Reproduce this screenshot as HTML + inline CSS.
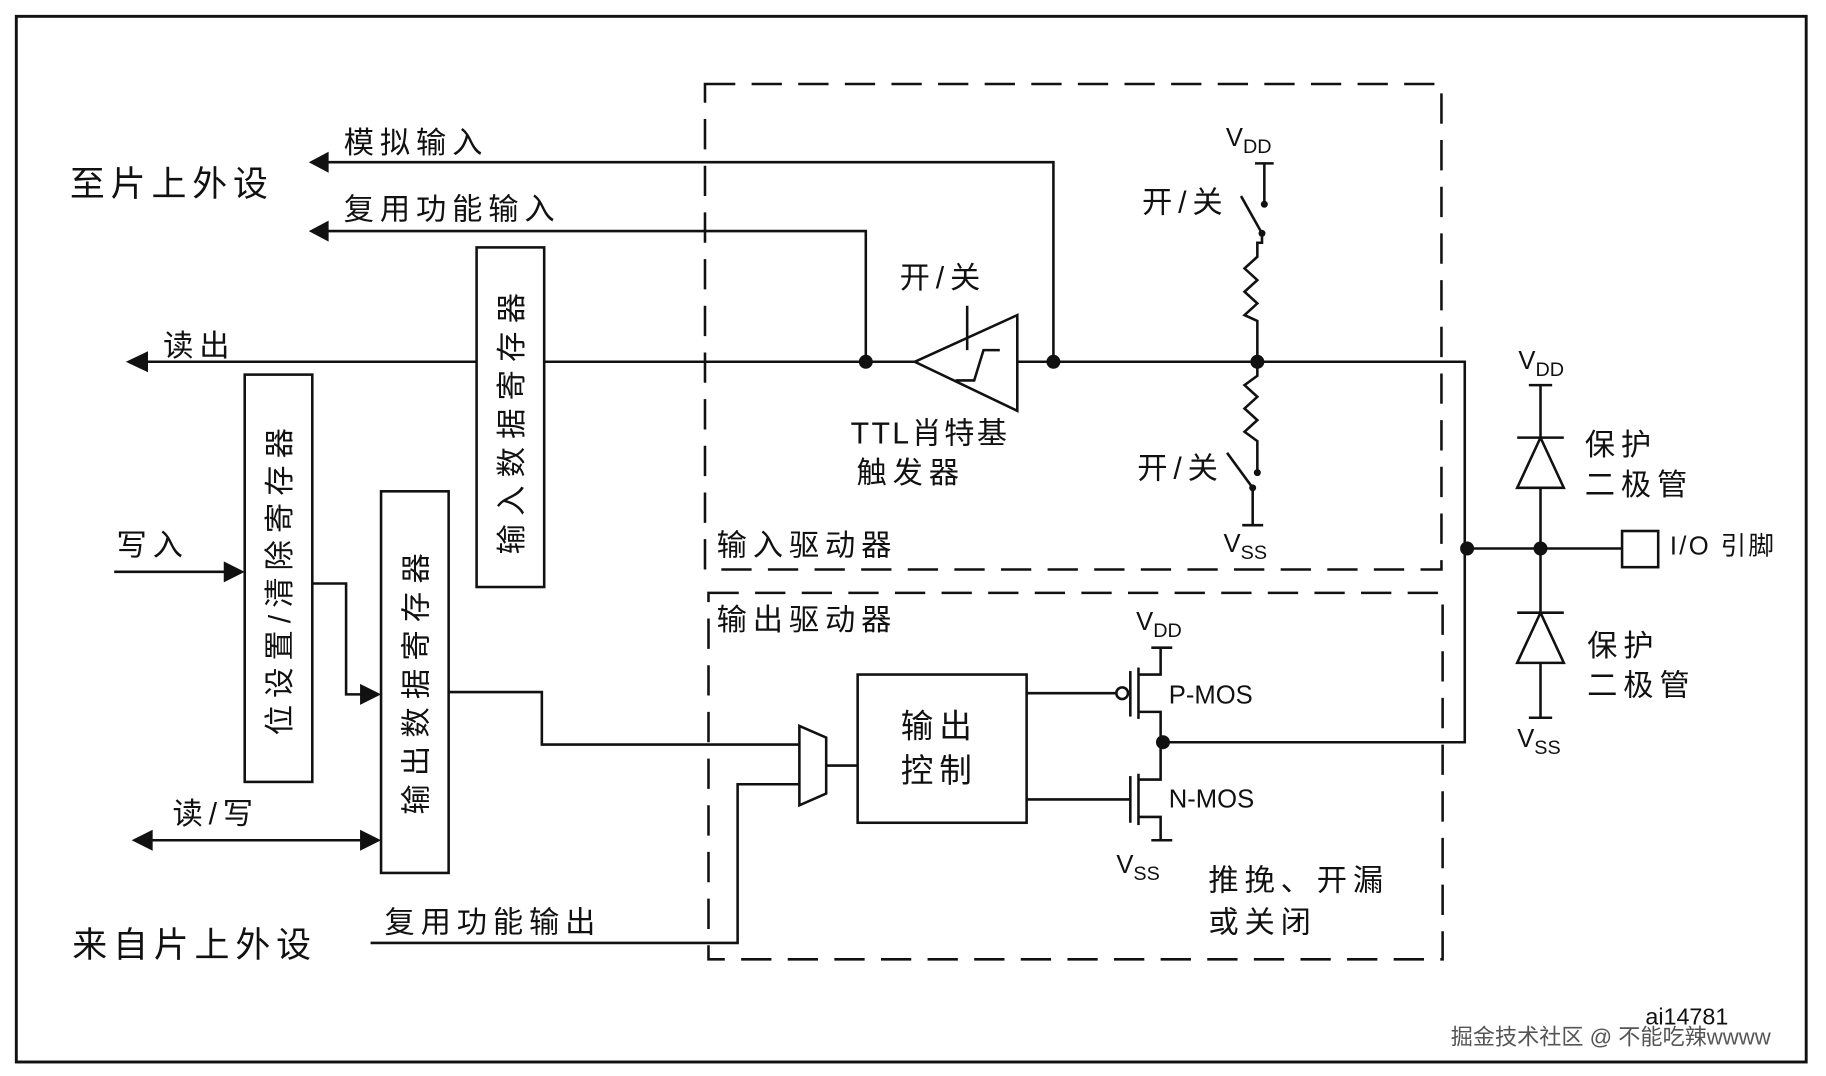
<!DOCTYPE html>
<html><head><meta charset="utf-8"><style>
html,body{margin:0;padding:0;background:#fff;width:1826px;height:1076px;overflow:hidden}
svg{display:block}
text{font-family:"Liberation Sans","Noto Sans CJK SC",sans-serif;fill:#111}
.c text{letter-spacing:5px}
</style></head><body>
<svg width="1826" height="1076" viewBox="0 0 1567 922" preserveAspectRatio="none" xmlns="http://www.w3.org/2000/svg">
<g stroke="#111" stroke-width="2.2" fill="none">
<rect x="14" y="14" width="1536" height="896" stroke-width="2.5"/>
<rect x="605" y="72" width="632" height="416" stroke-dasharray="26,14"/>
<rect x="608" y="508" width="630" height="314" stroke-dasharray="26,14"/>
<polyline points="280,139 904,139 904,310"/>
<polyline points="280,198 743,198 743,310"/>
<line x1="120" y1="310" x2="409" y2="310"/>
<line x1="467" y1="310" x2="785" y2="310"/>
<polyline points="873,310 1257,310 1257,636 998,636"/>
<polygon points="785,310 873,270 873,352"/>
<polyline points="820,326 836,326 844,300 858,300"/>
<line x1="830" y1="262" x2="830" y2="300"/>
<rect x="409" y="212" width="58" height="291"/>
<rect x="210" y="321" width="58" height="349"/>
<rect x="327" y="421" width="58" height="327"/>
<polyline points="268,500 297,500 297,595 315,595"/>
<line x1="98" y1="490" x2="198" y2="490"/>
<line x1="125" y1="720" x2="315" y2="720"/>
<polyline points="385,593 465,593 465,638 686,638"/>
<polyline points="318,808 633,808 633,672 686,672"/>
<polygon points="686,622 709,632 709,680 686,690"/>
<line x1="709" y1="656" x2="736" y2="656"/>
<rect x="736" y="578" width="145" height="127"/>
<line x1="881" y1="594" x2="958" y2="594"/>
<circle cx="963" cy="594" r="5"/>
<line x1="970" y1="575" x2="970" y2="614"/>
<line x1="977" y1="572" x2="977" y2="616"/>
<polyline points="977,578 996,578 996,555"/>
<line x1="988" y1="555" x2="1006" y2="555"/>
<polyline points="977,610 996,610 996,668 977,668"/>
<line x1="881" y1="685" x2="970" y2="685"/>
<line x1="970" y1="665" x2="970" y2="705"/>
<line x1="977" y1="663" x2="977" y2="707"/>
<polyline points="977,700 996,700 996,720"/>
<line x1="988" y1="720" x2="1006" y2="720"/>
<line x1="1077" y1="140" x2="1093" y2="140"/>
<line x1="1085" y1="140" x2="1085" y2="175"/>
<line x1="1065" y1="168" x2="1083" y2="200"/>
<polyline points="1083,200 1083,208 1079,208 1079,220 1068,230 1079,240 1068,250 1079,260 1068,270 1079,275 1079,310"/>
<polyline points="1079,310 1079,322 1068,330 1079,340 1068,350 1079,360 1068,370 1079,378 1079,405"/>
<line x1="1053" y1="388" x2="1075" y2="418"/>
<line x1="1075" y1="418" x2="1075" y2="450"/>
<line x1="1066" y1="450" x2="1084" y2="450"/>
<line x1="1312" y1="330" x2="1332" y2="330"/>
<line x1="1322" y1="330" x2="1322" y2="615"/>
<line x1="1302" y1="375" x2="1342" y2="375"/>
<polygon points="1302,418 1342,418 1322,375" fill="#fff"/>
<line x1="1302" y1="525" x2="1342" y2="525"/>
<polygon points="1302,568 1342,568 1322,525" fill="#fff"/>
<line x1="1312" y1="615" x2="1332" y2="615"/>
<line x1="1257" y1="470" x2="1392" y2="470"/>
<rect x="1392" y="455" width="31" height="31"/>
</g>
<g fill="#111">
<polygon points="265,139 282,130 282,148"/>
<polygon points="265,198 282,189 282,207"/>
<polygon points="108,310 127,301 127,319"/>
<polygon points="210,490 192,481 192,499"/>
<polygon points="327,595 309,586 309,604"/>
<polygon points="113,720 131,711 131,729"/>
<polygon points="327,720 309,711 309,729"/>
<circle cx="743" cy="310" r="6"/><circle cx="904" cy="310" r="6"/><circle cx="1079" cy="310" r="6"/>
<circle cx="998" cy="636" r="6"/><circle cx="1259" cy="470" r="6"/><circle cx="1322" cy="470" r="6"/>
<circle cx="1085" cy="175" r="3"/><circle cx="1083" cy="200" r="3"/><circle cx="1079" cy="405" r="3"/><circle cx="1075" cy="418" r="3"/>
</g>
<g class="c">
<text x="60" y="168" font-size="30">至片上外设</text>
<text x="295" y="131" font-size="26">模拟输入</text>
<text x="295" y="188" font-size="26">复用功能输入</text>
<text x="140" y="305" font-size="26">读出</text>
<text x="100" y="476" font-size="26">写入</text>
<text x="148" y="706" font-size="26">读/写</text>
<text x="330" y="799" font-size="26">复用功能输出</text>
<text x="62" y="820" font-size="30">来自片上外设</text>
<text x="772" y="247" font-size="26">开/关</text>
<text x="980" y="182" font-size="26">开/关</text>
<text x="976" y="410" font-size="26">开/关</text>
<text x="730" y="380" font-size="26" style="letter-spacing:2px">TTL肖特基</text>
<text x="735" y="414" font-size="26">触发器</text>
<text x="615" y="476" font-size="26">输入驱动器</text>
<text x="615" y="540" font-size="26">输出驱动器</text>
<text x="773" y="632" font-size="28">输出</text>
<text x="773" y="670" font-size="28">控制</text>
<text x="1037" y="763" font-size="26">推挽、开漏</text>
<text x="1037" y="799" font-size="26">或关闭</text>
<text x="1360" y="390" font-size="26">保护</text>
<text x="1360" y="424" font-size="26">二极管</text>
<text x="1362" y="562" font-size="26">保护</text>
<text x="1362" y="596" font-size="26">二极管</text>
<text transform="translate(448,475) rotate(-90)" font-size="26" style="letter-spacing:7px">输入数据寄存器</text>
<text transform="translate(249,630) rotate(-90)" font-size="26" style="letter-spacing:6px">位设置/清除寄存器</text>
<text transform="translate(366,698) rotate(-90)" font-size="26" style="letter-spacing:7px">输出数据寄存器</text>
</g>
<g font-size="22">
<text x="1052" y="125">V<tspan font-size="17" dy="6">DD</tspan></text>
<text x="1050" y="473">V<tspan font-size="17" dy="6">SS</tspan></text>
<text x="975" y="540">V<tspan font-size="17" dy="6">DD</tspan></text>
<text x="958" y="748">V<tspan font-size="17" dy="6">SS</tspan></text>
<text x="1303" y="316">V<tspan font-size="17" dy="6">DD</tspan></text>
<text x="1302" y="640">V<tspan font-size="17" dy="6">SS</tspan></text>
<text x="1003" y="603">P-MOS</text>
<text x="1003" y="692">N-MOS</text>
<text x="1433" y="475" style="letter-spacing:2px">I/O 引脚</text>
<text x="1412" y="878" font-size="20">ai14781</text>
<text x="1245" y="895" font-size="19" style="fill:#555">掘金技术社区 @ 不能吃辣wwww</text>
</g>
</svg>
</body></html>
